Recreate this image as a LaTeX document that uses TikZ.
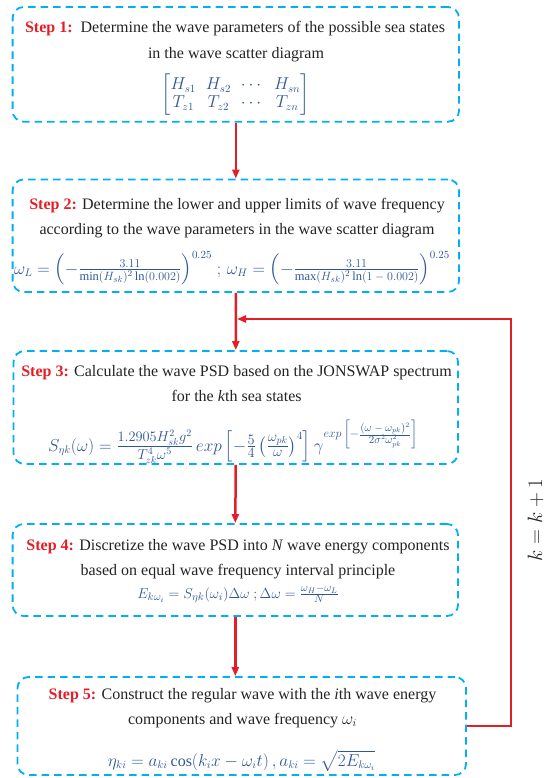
\documentclass[tikz,border=0pt]{standalone}
\usepackage{amsmath}
\usepackage{fontspec}
\setmainfont{Liberation Serif}
\usetikzlibrary{arrows.meta}
\definecolor{boxc}{RGB}{0,176,240}
\definecolor{redc}{RGB}{228,30,38}
\definecolor{mathc}{RGB}{47,85,151}
\definecolor{txtc}{RGB}{35,35,35}
\tikzset{
 box/.style={draw=boxc, line width=1.8pt, dash pattern=on 7.5pt off 5pt, rounded corners=11pt, inner sep=0pt},
 txt/.style={anchor=base, inner sep=0pt, text=txtc, font=\fontsize{16}{20}\selectfont},
 eq/.style={anchor=base, inner sep=0pt, text=mathc, font=\fontsize{16}{20}\selectfont},
 arr/.style={draw=redc, line width=2.5pt, -{Triangle[length=9pt,width=7pt]}},
}
\newcommand{\stp}[1]{\textcolor{redc}{\textbf{Step #1:}}}
\newcommand{\nf}[3]{\tfrac{\hbox{\fontsize{#1}{#1}\selectfont$#2$}}{\hbox{\fontsize{#1}{#1}\selectfont$#3$}}}
\begin{document}
\begin{tikzpicture}[x=1pt,y=-1pt]
\useasboundingbox (0,0) rectangle (546,778);
% boxes
\node[box, minimum width=446.4pt, minimum height=114.7pt] (b1) at (235.8,64.35) {};
\node[box, minimum width=446.4pt, minimum height=112.5pt] (b2) at (235.8,235.75) {};
\node[box, minimum width=444.5pt, minimum height=113pt] (b3) at (235.75,407.5) {};
\node[box, minimum width=445.4pt, minimum height=92pt] (b4) at (235.3,570) {};
\node[box, minimum width=448.5pt, minimum height=98pt] (b5) at (241.75,726) {};
% texts
\node[txt] (t11) at (235,33) {\stp{1}\ \ Determine the wave parameters of the possible sea states};
\node[txt] (t12) at (236,59) {in the wave scatter diagram};
\node[eq, anchor=center] (e1) at (235.5,95) {$\renewcommand{\arraystretch}{0.92}\begin{bmatrix}H_{s1}&H_{s2}&\cdots&H_{sn}\\T_{z1}&T_{z2}&\cdots&T_{zn}\end{bmatrix}$};
\node[txt] (t21) at (237,209) {\stp{2} Determine the lower and upper limits of wave frequency};
\node[txt] (t22) at (237,234) {according to the wave parameters in the wave scatter diagram};
\node[eq] (e2) at (232,274) {$\omega_L=\Bigl(-\nf{12.5}{3.11}{\min(H_{sk})^2\ln(0.002)}\Bigr)^{0.25}\;;\,\omega_H=\Bigl(-\nf{12.5}{3.11}{\max(H_{sk})^2\ln(1-0.002)}\Bigr)^{0.25}$};
\node[txt] (t31) at (236.6,376) {\stp{3} Calculate the wave PSD based on the JONSWAP spectrum};
\node[txt] (t32) at (236.6,401) {for the \textit{k}th sea states};
\node[eq] (e3) at (233,451) {$S_{\eta k}(\omega)=\nf{14.5}{1.2905H_{sk}^2g^2}{T_{zk}^4\omega^5}\,exp\left[-\nf{14.5}{5}{4}\left(\nf{14.5}{\omega_{pk}}{\omega}\right)^4\right]\gamma^{\hbox{\fontsize{12}{13}\selectfont$exp\left[-\nf{10.5}{(\omega-\omega_{pk})^2}{2\sigma^2\omega_{pk}^2}\right]$}}$};
\node[txt] (t41) at (238,550.5) {\stp{4} Discretize the wave PSD into \textit{N} wave energy components};
\node[txt] (t42) at (238,575) {based on equal wave frequency interval principle};
\node[eq, font=\fontsize{15.5}{19}\selectfont] (e4) at (238,598) {$E_{k\omega_i}=S_{\eta k}(\omega_i)\Delta\omega\ ;\Delta\omega=\tfrac{\omega_H-\omega_L}{N}$};
\node[txt] (t51) at (242.5,699) {\stp{5} Construct the regular wave with the \textit{i}th wave energy};
\node[txt] (t52) at (242.5,724) {components and wave frequency $\omega_i$};
\node[eq] (e5) at (241.5,766) {$\eta_{ki}=a_{ki}\cos(k_ix-\omega_it)\,,a_{ki}=\sqrt{2E_{k\omega_i}}$};
% connectors
\draw[arr] (b1.south) -- (b2.north);
\draw[arr] (b2.south) -- (b3.north);
\draw[arr] (b3.south) -- (b4.north);
\draw[arr] (b4.south) -- (b4.south |- b5.north);
\coordinate (fr) at (511,726);
\coordinate (ft) at (511,319);
\coordinate (fj) at (b2.south |- ft);
\draw[arr, shorten >=1.2pt] (b5.east) -- (fr) -- (ft) -- (fj);
\node[rotate=90, text=txtc, font=\fontsize{21}{24}\selectfont] (kl) at (535.5,520) {$k=k+1$};
\end{tikzpicture}
\end{document}
